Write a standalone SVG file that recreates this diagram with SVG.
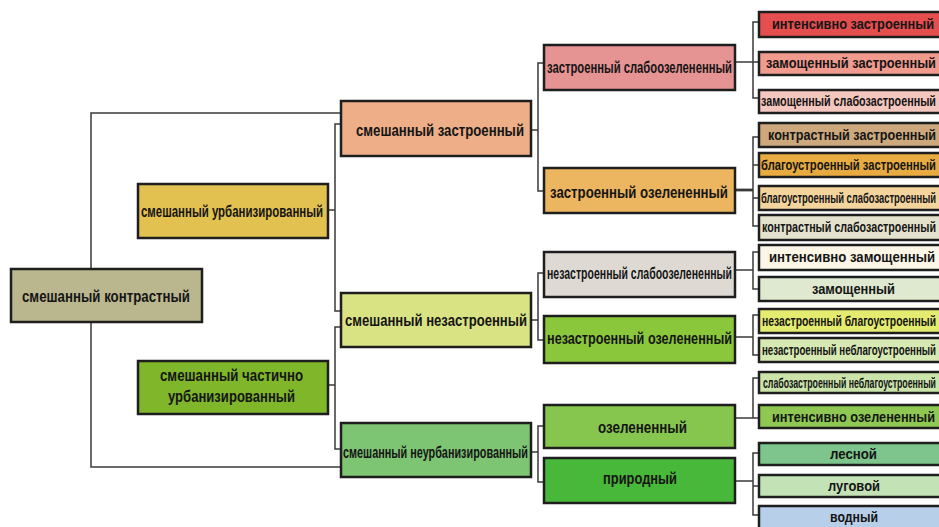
<svg xmlns="http://www.w3.org/2000/svg" width="939" height="527" viewBox="0 0 939 527">
<style>
.b{stroke:#1e1e1e;stroke-width:2.5}
.t{font-family:"Liberation Sans Narrow","Liberation Sans",Arial,sans-serif;font-weight:bold;fill:#151515}
.l1{font-size:17px}
.l2{font-size:16px}
.l3{font-size:14px}
.c{fill:none;stroke:#3a3a3a;stroke-width:1.5}
</style>
<rect width="939" height="527" fill="#ffffff"/>
<g id="connectors">
<path class="c" d="M341 113H91V467H341"/>
<path class="c" d="M327 210H335M341 124H335V311H341"/>
<path class="c" d="M327 385H335M341 327H335V449H341"/>
<path class="c" d="M531 130H538M544 63H538V191H544"/>
<path class="c" d="M531 320H538M544 273H538V340H544"/>
<path class="c" d="M531 452H538M544 426H538V482H544"/>
<path class="c" d="M735 62H759M759 22H753V98H759"/>
<path class="c" d="M735 190H753" style="stroke-width:2.8"/>
<path class="c" d="M759 137H753V226H759M753 165H759M753 198H759"/>
<path class="c" d="M735 270H753M759 252H753V289H759"/>
<path class="c" d="M735 337H753M759 315H753V355H759"/>
<path class="c" d="M735 418H753M759 378H753V418H759"/>
<path class="c" d="M735 481H753M759 453H753V515H759M753 486H759"/>
</g>
<g id="n-root"><rect class="b" x="11" y="269" width="191" height="53" fill="#BAB78F"/><text class="t l1" x="22" y="302" textLength="168" lengthAdjust="spacingAndGlyphs">смешанный контрастный</text></g>
<g id="n-urb"><rect class="b" x="138" y="184" width="190" height="54" fill="#E2C150"/><text class="t l1" x="141" y="217" textLength="182" lengthAdjust="spacingAndGlyphs">смешанный урбанизированный</text></g>
<g id="n-chast"><rect class="b" x="138" y="361" width="190" height="53" fill="#7FB62A"/><text class="t l1" x="160" y="381" textLength="143" lengthAdjust="spacingAndGlyphs">смешанный частично</text><text class="t l1" x="168" y="402" textLength="127" lengthAdjust="spacingAndGlyphs">урбанизированный</text></g>
<g id="n-zastr"><rect class="b" x="341" y="101" width="190" height="55" fill="#EDAE88"/><text class="t l1" x="356" y="136" textLength="168" lengthAdjust="spacingAndGlyphs">смешанный застроенный</text></g>
<g id="n-nezastr"><rect class="b" x="341" y="293" width="190" height="54" fill="#D9E384"/><text class="t l1" x="345" y="326" textLength="182" lengthAdjust="spacingAndGlyphs">смешанный незастроенный</text></g>
<g id="n-neurb"><rect class="b" x="341" y="423" width="190" height="54" fill="#7DC473"/><text class="t l2" x="343" y="458" textLength="185" lengthAdjust="spacingAndGlyphs">смешанный неурбанизированный</text></g>
<g id="n-zso"><rect class="b" x="544" y="45" width="191" height="45" fill="#E69394"/><text class="t l2" x="547" y="73" textLength="185" lengthAdjust="spacingAndGlyphs">застроенный слабоозелененный</text></g>
<g id="n-zo"><rect class="b" x="544" y="168" width="191" height="45" fill="#ECB660"/><text class="t l2" x="550" y="198" textLength="178" lengthAdjust="spacingAndGlyphs">застроенный озелененный</text></g>
<g id="n-nzso"><rect class="b" x="544" y="252" width="191" height="45" fill="#DEDAD3"/><text class="t l2" x="547" y="279" textLength="185" lengthAdjust="spacingAndGlyphs">незастроенный слабоозелененный</text></g>
<g id="n-nzo"><rect class="b" x="544" y="316" width="191" height="47" fill="#8AC73A"/><text class="t l2" x="547" y="344" textLength="185" lengthAdjust="spacingAndGlyphs">незастроенный озелененный</text></g>
<g id="n-oz"><rect class="b" x="544" y="405" width="191" height="43" fill="#86C64E"/><text class="t l2" x="598" y="433" textLength="89" lengthAdjust="spacingAndGlyphs">озелененный</text></g>
<g id="n-prir"><rect class="b" x="544" y="458" width="191" height="45" fill="#48B83A"/><text class="t l2" x="603" y="484" textLength="74" lengthAdjust="spacingAndGlyphs">природный</text></g>
<g id="n-r1"><rect class="b" x="759" y="12" width="186" height="25" fill="#E44E4E"/><text class="t l3" x="772" y="29" textLength="162" lengthAdjust="spacingAndGlyphs">интенсивно застроенный</text></g>
<g id="n-r2"><rect class="b" x="759" y="52" width="186" height="23" fill="#F19A8E"/><text class="t l3" x="766" y="68" textLength="170" lengthAdjust="spacingAndGlyphs">замощенный застроенный</text></g>
<g id="n-r3"><rect class="b" x="759" y="90" width="186" height="23" fill="#F4C7BE"/><text class="t l3" x="761" y="106" textLength="175" lengthAdjust="spacingAndGlyphs">замощенный слабозастроенный</text></g>
<g id="n-r4"><rect class="b" x="759" y="123" width="186" height="24" fill="#CDA87C"/><text class="t l3" x="768" y="140" textLength="168" lengthAdjust="spacingAndGlyphs">контрастный застроенный</text></g>
<g id="n-r5"><rect class="b" x="759" y="153" width="186" height="24" fill="#E8AB42"/><text class="t l3" x="761" y="170" textLength="175" lengthAdjust="spacingAndGlyphs">благоустроенный застроенный</text></g>
<g id="n-r6"><rect class="b" x="759" y="186" width="186" height="24" fill="#F2D49C"/><text class="t l3" x="761" y="203" textLength="175" lengthAdjust="spacingAndGlyphs">благоустроенный слабозастроенный</text></g>
<g id="n-r7"><rect class="b" x="759" y="215" width="186" height="25" fill="#E4E2CC"/><text class="t l3" x="762" y="232" textLength="174" lengthAdjust="spacingAndGlyphs">контрастный слабозастроенный</text></g>
<g id="n-r8"><rect class="b" x="759" y="245" width="186" height="25" fill="#FBF6E6"/><text class="t l3" x="769" y="262" textLength="166" lengthAdjust="spacingAndGlyphs">интенсивно замощенный</text></g>
<g id="n-r9"><rect class="b" x="759" y="277" width="186" height="24" fill="#DEE9CF"/><text class="t l3" x="812" y="294" textLength="83" lengthAdjust="spacingAndGlyphs">замощенный</text></g>
<g id="n-r10"><rect class="b" x="759" y="309" width="186" height="24" fill="#E4EC70"/><text class="t l3" x="762" y="326" textLength="174" lengthAdjust="spacingAndGlyphs">незастроенный благоустроенный</text></g>
<g id="n-r11"><rect class="b" x="759" y="338" width="186" height="24" fill="#D7E9B2"/><text class="t l3" x="762" y="355" textLength="174" lengthAdjust="spacingAndGlyphs">незастроенный неблагоустроенный</text></g>
<g id="n-r12"><rect class="b" x="759" y="372" width="186" height="21" fill="#CBE4AA"/><text class="t l3" x="763" y="388" textLength="173" lengthAdjust="spacingAndGlyphs">слабозастроенный неблагоустроенный</text></g>
<g id="n-r13"><rect class="b" x="759" y="405" width="186" height="23" fill="#8EC852"/><text class="t l3" x="772" y="422" textLength="163" lengthAdjust="spacingAndGlyphs">интенсивно озелененный</text></g>
<g id="n-r14"><rect class="b" x="759" y="443" width="186" height="22" fill="#7DC58C"/><text class="t l3" x="830" y="459" textLength="47" lengthAdjust="spacingAndGlyphs">лесной</text></g>
<g id="n-r15"><rect class="b" x="759" y="475" width="186" height="22" fill="#C3E3B6"/><text class="t l3" x="828" y="491" textLength="52" lengthAdjust="spacingAndGlyphs">луговой</text></g>
<g id="n-r16"><rect class="b" x="759" y="506" width="186" height="25" fill="#B7CFE9"/><text class="t l3" x="830" y="522" textLength="48" lengthAdjust="spacingAndGlyphs">водный</text></g>
</svg>
